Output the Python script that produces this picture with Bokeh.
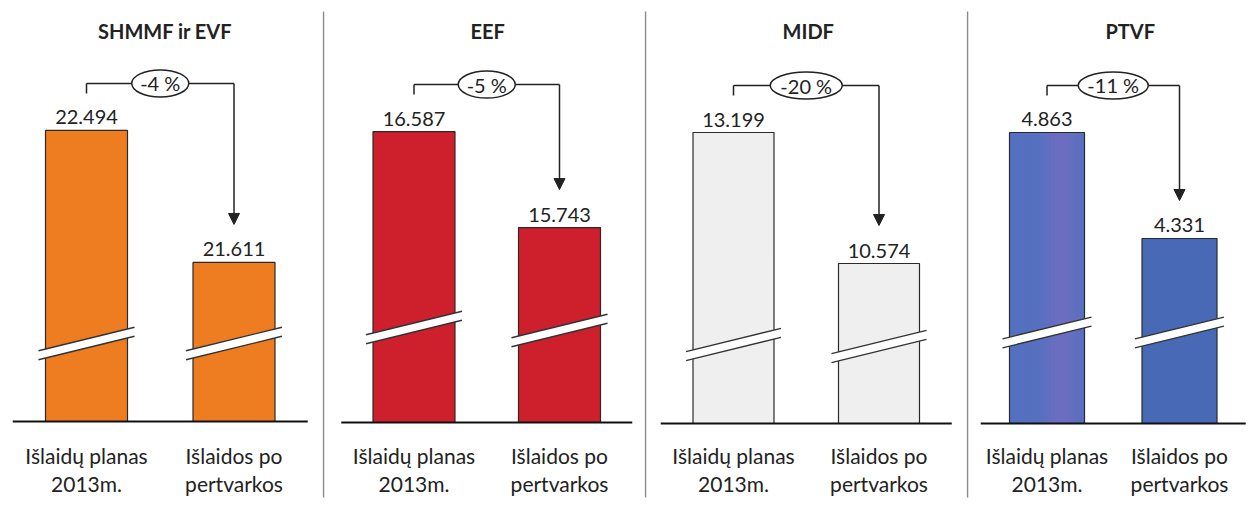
import math
from bokeh.plotting import figure
from bokeh.layouts import row
from bokeh.models import Range1d, Arrow, NormalHead
from bokeh.core.properties import value
from bokeh.embed import file_html
from bokeh.resources import INLINE

# ---------------- data ----------------
panel_titles = ["SHMMF ir EVF", "EEF", "MIDF", "PTVF"]
cat_line1 = ["Išlaidų planas", "Išlaidos po"]
cat_line2 = ["2013m.", "pertvarkos"]
plan_2013 = [22.494, 16.587, 13.199, 4.863]
after_reform = [21.611, 15.743, 10.574, 4.331]
change_labels = ["-4 %", "-5 %", "-20 %", "-11 %"]

# ---------------- layout / style ----------------
FONT = "Lato"
TXT = "#222222"
fig_w = [322, 322, 322, 290]
fig_h = 508
bar1_px = [86, 91.5, 89, 80.5]          # centre of first bar from figure left
gap_px = [147.5, 145.5, 145.5, 132.5]   # distance between bar centres
barw_px = [82, 82, 81, 75]
baseline_px = [421, 422, 423, 423]       # baseline from figure top
axis_start = [20.547, 14.029, 7.368, 3.4025]  # truncated axis value at baseline
px_per_unit = [149.49, 113.74, 49.905, 199.25]
break_px = [(78, 78), (95, 92), (79, 77), (91, 91)]
ellipse_w = [57, 57, 72, 70]
title_dx = [5, 1, 2, 17]
colors = [("#EE7D21", "#EE7D21"), ("#CE1F2D", "#CE1F2D"),
          ("#EFEFEF", "#EFEFEF"), ("#5470C0", "#4869B6")]
tint = [None, None, None, "#8A6CC0"]

figs = []
for k in range(4):
    gap, ppu, base = gap_px[k], px_per_unit[k], axis_start[k]
    dx = lambda px: px / gap
    dy = lambda px: px / ppu
    x0 = -dx(bar1_px[k])
    x1 = x0 + dx(fig_w[k])
    y1 = base + dy(baseline_px[k])
    y0 = base - dy(fig_h - baseline_px[k])
    p = figure(width=fig_w[k], height=fig_h, x_range=Range1d(x0, x1), y_range=Range1d(y0, y1),
               output_backend="svg", toolbar_location=None, min_border=0,
               x_axis_location=None, y_axis_location=None)
    p.grid.visible = False
    p.outline_line_color = None
    p.background_fill_color = "white"
    p.border_fill_color = "white"

    vals = [plan_2013[k], after_reform[k]]
    xs = [0, 1]

    # separator
    if k > 0:
        p.segment(x0=[x0 + dx(1)], y0=[y1 - dy(11)], x1=[x0 + dx(1)], y1=[y1 - dy(497)],
                  line_color="#8a8a8a", line_width=1.5)

    # bars
    bw = dx(barw_px[k])
    p.vbar(x=xs, top=vals, bottom=base, width=bw, fill_color=list(colors[k]),
           line_color=None)
    if tint[k]:
        n = 20
        sx, sa = [], []
        for j in range(n):
            t = (j + 0.5) / n
            sx.append(-bw / 2 + t * bw)
            sa.append(0.45 * math.exp(-((t - 0.7) / 0.22) ** 2))
        p.vbar(x=sx, top=vals[0], bottom=base, width=bw / n * 1.02, fill_color=tint[k],
               fill_alpha=sa, line_color=None)
    p.vbar(x=xs, top=vals, bottom=base, width=bw, fill_color=None,
           line_color="#2a2a2a", line_width=1.2)

    # baseline
    p.segment(x0=[-0.5], y0=[base], x1=[1.5], y1=[base], line_color="#111111", line_width=2)

    # axis break marks
    half = barw_px[k] / 2 + 7
    slope = 0.245
    hth = 4.5
    pxs, pys, top_x, top_y, bot_x, bot_y = [], [], [], [], [], []
    for i in range(2):
        yc = base + dy(break_px[k][i])
        xl, xr = i - dx(half), i + dx(half)
        yl, yr = yc - dy(slope * half), yc + dy(slope * half)
        pxs.append([xl, xr, xr, xl])
        pys.append([yl - dy(hth), yr - dy(hth), yr + dy(hth), yl + dy(hth)])
        top_x.append([xl, xr]); top_y.append([yl + dy(hth), yr + dy(hth)])
        bot_x.append([xl, xr]); bot_y.append([yl - dy(hth), yr - dy(hth)])
    p.patches(pxs, pys, fill_color="white", line_color=None)
    p.multi_line(top_x + bot_x, top_y + bot_y, line_color="#333333", line_width=1.4)

    # value labels
    p.text(x=xs, y=vals, text=[f"{v:.3f}" for v in vals], text_align="center",
           text_baseline="bottom", y_offset=-6, text_font=value(FONT), text_font_size="20px",
           text_color=TXT)

    # bracket + arrow
    yb = vals[0] + dy(47)
    p.segment(x0=[0, 0], y0=[vals[0] + dy(37), yb], x1=[0, 1], y1=[yb, yb],
              line_color="#222222", line_width=1.5)
    p.add_layout(Arrow(x_start=1, y_start=yb, x_end=1, y_end=vals[1] + dy(38),
                       line_color="#222222", line_width=1.5,
                       end=NormalHead(size=11, fill_color="#222222", line_color="#222222")))
    p.ellipse(x=[0.5], y=[yb], width=ellipse_w[k], height=27, width_units="screen",
              height_units="screen", fill_color="white", line_color="#222222", line_width=1.5)
    p.text(x=[0.5], y=[yb], text=[change_labels[k]], text_align="center", text_baseline="middle",
           text_font=value(FONT), text_font_size="20px", text_color=TXT)

    # title
    p.text(x=[0.5 + dx(title_dx[k])], y=[y1 - dy(30)], text=[panel_titles[k]], text_align="center",
           text_baseline="middle", text_font=value(FONT), text_font_size="20px",
           text_font_style="bold", text_color=TXT)

    # category labels
    p.text(x=xs, y=[y1 - dy(455)] * 2, text=cat_line1, text_align="center", text_baseline="middle",
           text_font=value(FONT), text_font_size="21px", text_color=TXT)
    p.text(x=xs, y=[y1 - dy(483)] * 2, text=cat_line2, text_align="center", text_baseline="middle",
           text_font=value(FONT), text_font_size="21px", text_color=TXT)
    figs.append(p)

layout = row(*figs, spacing=0)
open("out.html", "w").write(file_html(layout, INLINE))
